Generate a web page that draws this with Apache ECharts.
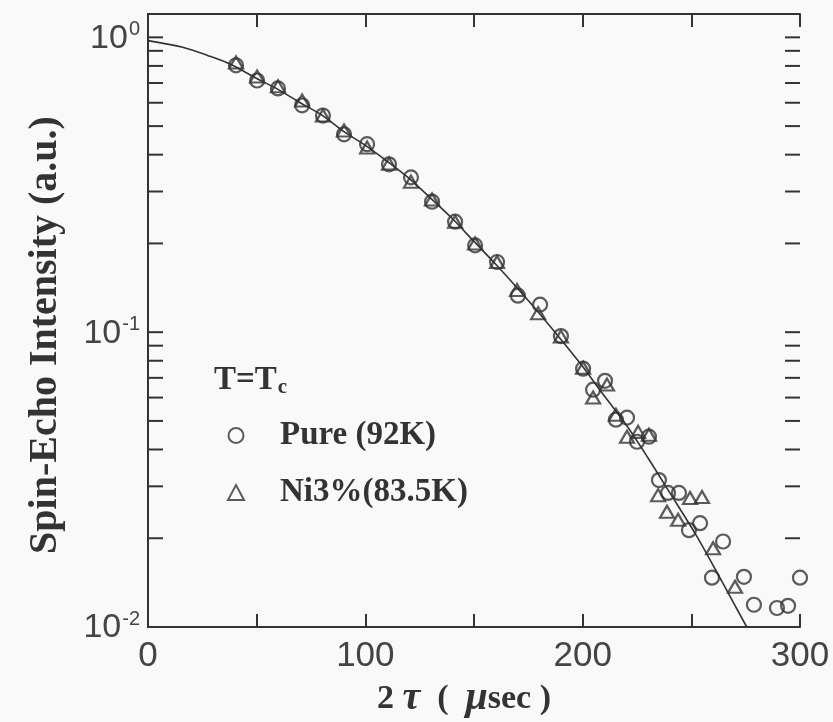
<!DOCTYPE html>
<html><head><meta charset="utf-8">
<script src="https://cdn.jsdelivr.net/npm/echarts@6/dist/echarts.min.js"></script>
<style>html,body{margin:0;padding:0;background:#f9f9f9}#c{width:833px;height:722px}</style>
</head><body><div id="c"></div>
<script>
// Pure (92K) — circles
const pureX = [40.5, 50.2, 59.8, 70.9, 80.5, 90.2, 100.8, 110.9, 121, 130.7, 141.3, 150.5, 160.6, 170.2, 180.4, 190, 200.2, 204.8, 210.3, 215.3, 220.4, 225, 230.5, 235.1, 239.3, 244.3, 248.9, 254, 259.5, 264.6, 274.2, 278.8, 289.4, 294.5, 300];
const pureY = [0.804, 0.714, 0.671, 0.588, 0.543, 0.469, 0.434, 0.371, 0.335, 0.277, 0.237, 0.197, 0.173, 0.133, 0.124, 0.097, 0.0752, 0.0638, 0.0684, 0.0505, 0.0513, 0.0425, 0.0442, 0.0315, 0.0285, 0.0285, 0.0213, 0.0225, 0.0147, 0.0195, 0.0148, 0.0119, 0.0116, 0.0118, 0.0147];
// Ni3% (83.5K) — triangles
const niX = [40.5, 50.2, 59.8, 70.9, 80.5, 90.2, 100.8, 110.9, 121, 130.7, 141.3, 150.5, 160.6, 169.8, 179.5, 190, 200.2, 204.8, 211.2, 215.3, 220.4, 225.5, 230.5, 234.7, 238.8, 243.9, 249.4, 254.9, 260, 270.1];
const niY = [0.822, 0.737, 0.682, 0.611, 0.543, 0.483, 0.423, 0.373, 0.324, 0.282, 0.237, 0.2, 0.173, 0.139, 0.116, 0.0966, 0.0757, 0.06, 0.0664, 0.0525, 0.0442, 0.0459, 0.0449, 0.028, 0.0246, 0.0231, 0.0274, 0.0276, 0.0185, 0.0137];
// fitted curve
const fitX = [0, 16, 28, 38, 50, 60, 70, 80, 90, 100, 110, 120, 130, 140, 150, 160, 170, 180, 190, 200, 208, 220, 230, 240, 252, 264, 275.5];
const fitY = [0.975, 0.925, 0.865, 0.81, 0.725, 0.665, 0.6, 0.545, 0.48, 0.43, 0.38, 0.333, 0.285, 0.243, 0.203, 0.17, 0.141, 0.116, 0.0945, 0.0765, 0.0635, 0.0485, 0.0375, 0.0286, 0.0206, 0.0143, 0.01];
// y tick positions (log axis, minor ticks at 2..9)
const yTickValues = [0.01,0.02,0.03,0.04,0.05,0.06,0.07,0.08,0.09,0.1,0.2,0.3,0.4,0.5,0.6,0.7,0.8,0.9,1];
const xMin = 0, xMax = 300, xTickStep = 50;
const yMin = 0.01, yMax = 1.2;

const ink = '#333333';
const serif = '"Liberation Serif","Times New Roman",serif';
const sans = '"Liberation Sans",Arial,sans-serif';

const chart = echarts.init(document.getElementById('c'));
const yLabelFmt = function (v) {
  const e = Math.log10(v), r = Math.round(e);
  if (Math.abs(e - r) > 1e-6) return '';
  return '{b|10}{s|' + r + '}';
};
chart.setOption({
  backgroundColor: '#f9f9f9',
  animation: false,
  grid: { left: 148, right: 33, top: 14, bottom: 95, outerBoundsMode: 'none', containLabel: false },
  xAxis: [{
    type: 'value', min: xMin, max: xMax, interval: xTickStep,
    axisLine: { show: true, lineStyle: { color: ink, width: 2 } },
    axisTick: { show: true, inside: true, length: 13, lineStyle: { color: ink, width: 2 } },
    splitLine: { show: false },
    axisLabel: { fontFamily: sans, fontSize: 35, color: '#444', margin: 12,
      formatter: v => (v % 100 === 0 ? String(v) : '') }
  }, {
    type: 'value', position: 'top', min: xMin, max: xMax, interval: xTickStep,
    axisLine: { show: true, lineStyle: { color: ink, width: 2 } },
    axisTick: { show: true, inside: true, length: 13, lineStyle: { color: ink, width: 2 } },
    splitLine: { show: false }, axisLabel: { show: false }
  }],
  yAxis: [{
    type: 'log', logBase: 10, min: yMin, max: yMax,
    axisLine: { show: true, lineStyle: { color: ink, width: 2 } },
    axisTick: { show: false }, splitLine: { show: false }, minorTick: { show: false },
    axisLabel: { margin: 8, formatter: yLabelFmt, rich: {
      b: { fontFamily: sans, fontSize: 34, color: '#444', lineHeight: 36, verticalAlign: 'bottom' },
      s: { fontFamily: sans, fontSize: 20, color: '#444', lineHeight: 36, verticalAlign: 'top', padding: [0, 0, 15, 1] }
    } }
  }, {
    type: 'log', logBase: 10, min: yMin, max: yMax, position: 'right',
    axisLine: { show: true, lineStyle: { color: ink, width: 2 } },
    axisTick: { show: false }, splitLine: { show: false }, axisLabel: { show: false }
  }],
  legend: {
    orient: 'vertical', left: 222, top: 414, itemGap: 24, itemWidth: 16, itemHeight: 15,
    data: ['Pure (92K)', 'Ni3%(83.5K)'],
    textStyle: { fontFamily: serif, fontWeight: 'bold', fontSize: 33, color: ink, padding: [0, 0, 0, 31] }
  },
  graphic: [{
    type: 'text', left: 214, top: 364,
    style: { text: '{a|T=T}{b|c}', rich: {
      a: { fontFamily: serif, fontWeight: 'bold', fontSize: 33, fill: ink, lineHeight: 36 },
      b: { fontFamily: serif, fontWeight: 'bold', fontSize: 21, fill: ink, lineHeight: 36, verticalAlign: 'bottom', padding: [12, 0, 0, 1] }
    } }
  }, {
    type: 'text', x: 46, y: 335, rotation: Math.PI / 2,
    style: { text: 'Spin-Echo Intensity (a.u.)', align: 'center', verticalAlign: 'middle',
      fontFamily: serif, fontWeight: 'bold', fontSize: 40, fill: ink }
  }, {
    type: 'text', x: 464, y: 699,
    style: { text: '{n|2 }{g|τ}{n|  (  }{g|μ}{n|sec )}', align: 'center', verticalAlign: 'middle', rich: {
      n: { fontFamily: serif, fontWeight: 'bold', fontSize: 34, fill: ink },
      g: { fontFamily: serif, fontWeight: 'bold', fontStyle: 'italic', fontSize: 40, fill: ink }
    } }
  }],
  series: [{
    type: 'custom', name: 'yticks', silent: true, z: 5,
    renderItem: function (params, api) {
      const v = api.value(1);
      const a = api.coord([xMin, v]), b = api.coord([xMax, v]);
      const st = { stroke: ink, lineWidth: 2 };
      return { type: 'group', children: [
        { type: 'line', shape: { x1: a[0], y1: a[1], x2: a[0] + 15, y2: a[1] }, style: st },
        { type: 'line', shape: { x1: b[0] - 15, y1: b[1], x2: b[0], y2: b[1] }, style: st }
      ] };
    },
    encode: { x: 0, y: 1 },
    data: yTickValues.map(v => [xMin, v])
  }, {
    type: 'line', name: 'fit', smooth: 0.3, symbol: 'none', clip: true,
    lineStyle: { color: ink, width: 1.6 },
    data: fitX.map((x, i) => [x, fitY[i]])
  }, {
    type: 'scatter', name: 'Pure (92K)', symbol: 'circle', symbolSize: 14,
    itemStyle: { color: 'rgba(0,0,0,0)', borderColor: ink, borderWidth: 2.2 },
    data: pureX.map((x, i) => [x, pureY[i]])
  }, {
    type: 'scatter', name: 'Ni3%(83.5K)', symbol: 'triangle', symbolSize: [14, 12],
    itemStyle: { color: 'rgba(0,0,0,0)', borderColor: ink, borderWidth: 2.2 },
    data: niX.map((x, i) => [x, niY[i]])
  }]
});
</script></body></html>
